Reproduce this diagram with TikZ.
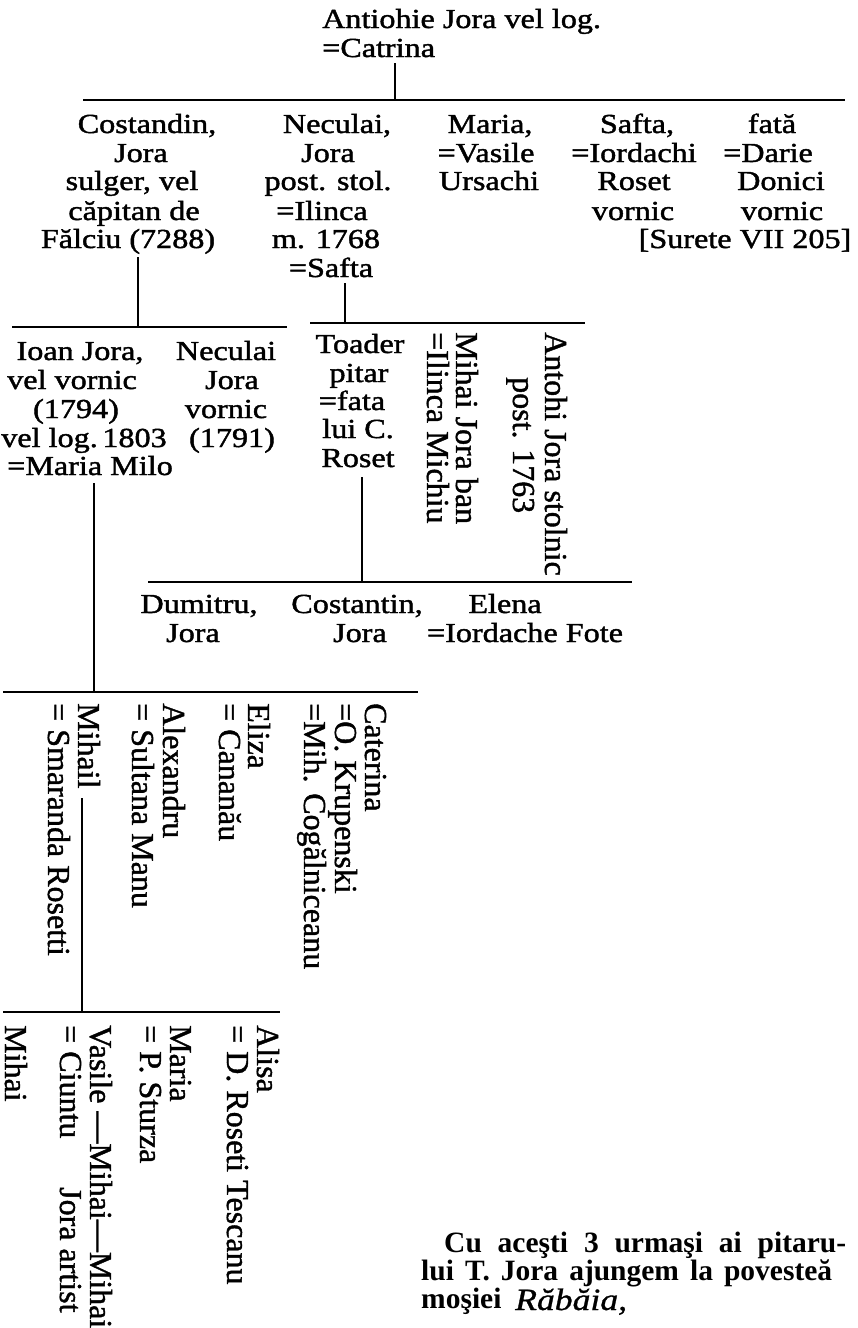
\documentclass[tikz,border=0pt]{standalone}
\usepackage{fontspec}
\setmainfont{Liberation Serif}
\newfontfamily\topfont[FakeStretch=1.17,FakeBold=1.5]{Liberation Serif}
\newfontfamily\rotfont[FakeBold=1.2]{Liberation Serif}
\newfontfamily\notefont{Liberation Serif}
\newfontfamily\rabfont[FakeStretch=1.15,FakeBold=1]{Liberation Serif Italic}
\begin{document}
\begin{tikzpicture}[x=1pt,y=-1pt,
  lbl/.style={font=\topfont\fontsize{27.5}{29}\selectfont, inner sep=0pt, anchor=base},
  lblw/.style={lbl, anchor=base west},
  rot/.style={font=\rotfont\fontsize{32}{30}\selectfont, inner sep=0pt, anchor=base west, rotate=-90},
  note/.style={font=\notefont\bfseries\fontsize{29.5}{29}\selectfont, inner sep=0pt, anchor=base west},
  bar/.style={line width=1.6pt},
  stem/.style={line width=1.2pt}]
\fill[white] (0,0) rectangle (857,1328);
\useasboundingbox (0,0) rectangle (857,1328);

% ---- generation 1
\node[lblw] (ant) at (322,28) {Antiohie Jora vel log.};
\node[lblw] (cat) at (322,57) {=Catrina};

% ---- generation 2
\node[lbl] (a1) at (147,133) {Costandin,};
\node[lbl] (a2) at (141,162) {Jora};
\node[lbl] (a3) at (132,190) {sulger, vel};
\node[lbl] (a4) at (134,220) {căpitan de};
\node[lbl] (a5) at (128,248) {Fălciu (7288)};

\node[lbl] (b1) at (337,133) {Neculai,};
\node[lbl] (b2) at (328,162) {Jora};
\node[lbl] (b3) at (328,190) {post. stol.};
\node[lbl] (b4) at (322,220) {=Ilinca};
\node[lbl] (b5) at (326,248) {m. 1768};
\node[lbl] (b6) at (331,277) {=Safta};

\node[lbl] (c1) at (490,133) {Maria,};
\node[lbl] (c2) at (486,162) {=Vasile};
\node[lbl] (c3) at (489,190) {Ursachi};

\node[lbl] (d1) at (637,133) {Safta,};
\node[lbl] (d2) at (634,162) {=Iordachi};
\node[lbl] (d3) at (634,190) {Roset};
\node[lbl] (d4) at (633,220) {vornic};

\node[lbl] (e1) at (772,133) {fată};
\node[lbl] (e2) at (768,162) {=Darie};
\node[lbl] (e3) at (781,190) {Donici};
\node[lbl] (e4) at (782,220) {vornic};
\node[lbl] (e5) at (745,248) {[Surete VII 205]};

% ---- generation 3
\node[lbl] (i1) at (80,360) {Ioan Jora,};
\node[lbl] (i2) at (72,389) {vel vornic};
\node[lbl] (i3) at (76,418) {(1794)};
\node[lbl] (i4) at (84,447) {vel log.\,1803};
\node[lbl] (i5) at (90,475) {=Maria Milo};

\node[lbl] (n1) at (226,360) {Neculai};
\node[lbl] (n2) at (232,389) {Jora};
\node[lbl] (n3) at (226,418) {vornic};
\node[lbl] (n4) at (232,447) {(1791)};

\node[lbl] (t1) at (360,353) {Toader};
\node[lbl] (t2) at (359,382) {pitar};
\node[lbl] (t3) at (352,410) {=fata};
\node[lbl] (t4) at (358,438) {lui C.};
\node[lbl] (t5) at (358,467) {Roset};

\node[rot] (mjb) at (456,332) {Mihai Jora ban};
\node[rot] (ilm) at (427,332) {=Ilinca Michiu};
\node[rot] (ajs) at (545,332) {Antohi Jora stolnic};
\node[rot] (p63) at (513,377) {post. 1763};

% ---- generation 4
\node[lbl] (du1) at (199,613) {Dumitru,};
\node[lbl] (du2) at (193,642) {Jora};
\node[lbl] (co1) at (357,613) {Costantin,};
\node[lbl] (co2) at (360,642) {Jora};
\node[lbl] (el1) at (505,613) {Elena};
\node[lbl] (el2) at (525,642) {=Iordache Fote};

% ---- children of Ioan
\node[rot] (mh1) at (78,703) {Mihail};
\node[rot] (mh2) at (48,703) {= Smaranda Rosetti};
\node[rot] (al1) at (163,703) {Alexandru};
\node[rot] (al2) at (132,703) {= Sultana Manu};
\node[rot] (ez1) at (248,703) {Eliza};
\node[rot] (ez2) at (219,703) {= Cananău};
\node[rot] (ct1) at (365,703) {Caterina};
\node[rot] (ct2) at (335,703) {=O. Krupenski};
\node[rot] (ct3) at (304,703) {=Mih. Cogălniceanu};

% ---- children of Mihail
\node[rot] (as1) at (257,1025) {Alisa};
\node[rot] (as2) at (227,1025) {= D. Roseti Tescanu};
\node[rot] (ma1) at (170,1025) {Maria};
\node[rot] (ma2) at (140,1025) {= P. Sturza};
\node[rot] (va1) at (90,1025) {Vasile —Mihai—Mihai};
\node[rot] (va2) at (60,1025) {= Ciuntu};
\node[rot] (va3) at (60,1187) {Jora artist};
\node[rot] (mi1) at (5,1025) {Mihai};

% ---- bars
\coordinate (b1l) at (83,100);  \coordinate (b1r) at (845,100);
\coordinate (b2l) at (12,327);  \coordinate (b2r) at (287,327);
\coordinate (b3l) at (310,323); \coordinate (b3r) at (585,323);
\coordinate (b4l) at (148,582); \coordinate (b4r) at (632,582);
\coordinate (b5l) at (3,692);   \coordinate (b5r) at (418,692);
\coordinate (b6l) at (3,1012);  \coordinate (b6r) at (280,1012);
\foreach \l/\r in {b1l/b1r,b2l/b2r,b3l/b3r,b4l/b4r,b5l/b5r,b6l/b6r}
  \draw[bar] (\l) -- (\r);

% ---- stems
\coordinate (s0) at (395,63);
\coordinate (sA) at (138,257);
\coordinate (sB) at (345,283);
\coordinate (sI) at (94,483);
\coordinate (sT) at (362,477);
\coordinate (sM) at (82,798);
\draw[stem] (s0) -- (s0 |- b1l);
\draw[stem] (sA) -- (sA |- b2l);
\draw[stem] (sB) -- (sB |- b3l);
\draw[stem] (sI) -- (sI |- b5l);
\draw[stem] (sT) -- (sT |- b4l);
\draw[stem] (sM) -- (sM |- b6l);

% ---- note
\node[note] (nt1) at (444,1252) {\makebox[402pt][s]{Cu aceşti 3 urmaşi ai pitaru-}};
\node[note] (nt2) at (421,1280) {\makebox[411pt][s]{lui T. Jora ajungem la povesteă}};
\node[note] (nt3) at (421,1308) {moşiei};
\node[inner sep=0pt, anchor=base west, font=\rabfont\fontsize{31}{31}\selectfont] (rab) at (515,1310) {Răbăia,};
\end{tikzpicture}
\end{document}
